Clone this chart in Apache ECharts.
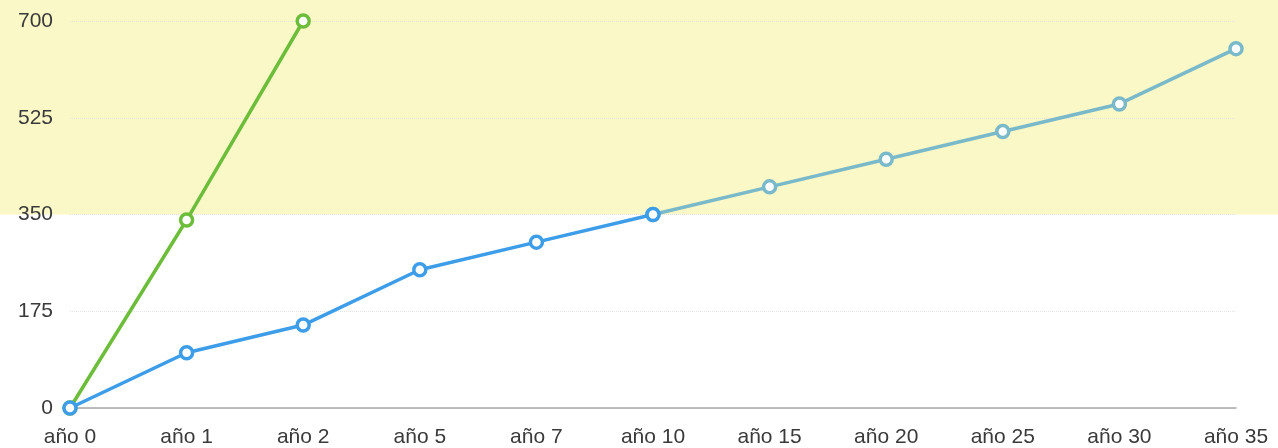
<!DOCTYPE html>
<html>
<head>
<meta charset="utf-8">
<script src="https://cdn.jsdelivr.net/npm/echarts@6/dist/echarts.min.js"></script>
<style>
  html, body { margin: 0; padding: 0; background: #fff; }
  #chart { width: 1278px; height: 448px; }
</style>
</head>
<body>
<div id="chart"></div>
<script>
  // categorias del eje x
  const years = ['año 0', 'año 1', 'año 2', 'año 5', 'año 7', 'año 10', 'año 15', 'año 20', 'año 25', 'año 30', 'año 35'];
  const yTicks = [0, 175, 350, 525, 700];
  const greenValues = [0, 340, 700];
  const blueValues = [0, 100, 150, 250, 300, 350, 400, 450, 500, 550, 650];
  const bandFrom = 350;

  // tramo azul (hasta 350) y tramo sobre la banda amarilla
  const lastLow = blueValues.findIndex(v => v >= bandFrom);
  const blueLow = blueValues.map((v, i) => i <= lastLow ? v : '-');
  const blueHigh = blueValues.map((v, i) => i >= lastLow ? v : '-');

  const chart = echarts.init(document.getElementById('chart'));
  const font = '"Liberation Sans", Helvetica, Arial, sans-serif';

  let option = {
    animation: false,
    grid: { left: 70, right: 42, top: 21, bottom: 40 },
    xAxis: {
      type: 'category',
      data: years,
      boundaryGap: false,
      axisLine: { lineStyle: { color: '#a8a8a8', width: 1.5 } },
      axisTick: { show: false },
      axisLabel: { color: '#3a3a3a', fontSize: 21, fontFamily: font, margin: 19 }
    },
    yAxis: {
      type: 'value',
      min: yTicks[0],
      max: yTicks[yTicks.length - 1],
      interval: yTicks[1] - yTicks[0],
      axisLine: { show: false },
      axisTick: { show: false },
      axisLabel: { color: '#3a3a3a', fontSize: 21, fontFamily: font, margin: 17 },
      splitLine: { lineStyle: { color: '#e4e4e4', type: 'dotted', width: 1 } }
    },
    series: [
      {
        type: 'line',
        data: greenValues,
        z: 3,
        symbol: 'circle',
        symbolSize: 12,
        lineStyle: { color: '#6cbd3a', width: 3.5 },
        itemStyle: { color: '#fff', borderColor: '#6cbd3a', borderWidth: 3.5 }
      },
      {
        type: 'line',
        data: blueHigh,
        z: 2,
        symbol: 'circle',
        symbolSize: 12,
        lineStyle: { color: '#79b9c9', width: 3.5 },
        itemStyle: { color: '#fff', borderColor: '#79b9c9', borderWidth: 3.5 }
      },
      {
        type: 'line',
        data: blueLow,
        z: 4,
        symbol: 'circle',
        symbolSize: 12,
        lineStyle: { color: '#3d9de9', width: 3.5 },
        itemStyle: { color: '#fff', borderColor: '#3d9de9', borderWidth: 3.5 }
      }
    ]
  };
  chart.setOption(option);

  // banda amarilla desde 350 hasta arriba
  const yBand = chart.convertToPixel({ yAxisIndex: 0 }, bandFrom);
  chart.setOption({
    graphic: [{
      type: 'rect',
      z: -1,
      silent: true,
      shape: { x: 0, y: 0, width: chart.getWidth(), height: yBand },
      style: { fill: '#fbf8c8' }
    }]
  });
</script>
</body>
</html>
